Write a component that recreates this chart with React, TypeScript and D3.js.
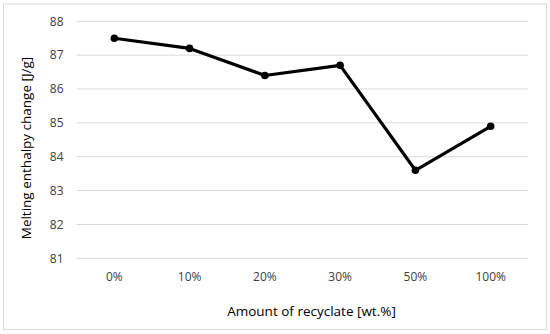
import React, { useEffect, useRef } from "react";
import * as d3 from "d3";

const categories = ["0%", "10%", "20%", "30%", "50%", "100%"];
const enthalpy = [87.5, 87.2, 86.4, 86.7, 83.6, 84.9];
const yTicks = [81, 82, 83, 84, 85, 86, 87, 88];

export default function App() {
  const svgRef = useRef<SVGSVGElement>(null);
  const width = 550;
  const height = 334;

  useEffect(() => {
    if (!svgRef.current) return;
    const svg = d3.select(svgRef.current);
    svg.selectAll("*").remove();

    const font = "'Open Sans', sans-serif";
    const plot = { left: 76.7, right: 528.3, top: 21.3, bottom: 258.3 };

    // chart border
    svg.append("rect")
      .attr("x", 3.5)
      .attr("y", 4)
      .attr("width", 543)
      .attr("height", 325.5)
      .attr("fill", "#fff")
      .attr("stroke", "#d9d9d9")
      .attr("stroke-width", 1);

    const x = d3.scaleBand<string>()
      .domain(categories)
      .range([plot.left, plot.right]);

    const y = d3.scaleLinear()
      .domain([81, 88])
      .range([plot.bottom, plot.top]);

    // gridlines
    svg.append("g")
      .selectAll("line")
      .data(yTicks)
      .join("line")
      .attr("x1", plot.left)
      .attr("x2", plot.right)
      .attr("y1", (d) => y(d))
      .attr("y2", (d) => y(d))
      .attr("stroke", "#d9d9d9")
      .attr("stroke-width", 1);

    // y tick labels
    svg.append("g")
      .selectAll("text")
      .data(yTicks)
      .join("text")
      .attr("x", 63.5)
      .attr("y", (d) => y(d))
      .attr("dy", "0.35em")
      .attr("text-anchor", "end")
      .attr("font-family", font)
      .attr("font-size", 12)
      .attr("fill", "#404040")
      .text((d) => d);

    // x tick labels
    svg.append("g")
      .selectAll("text")
      .data(categories)
      .join("text")
      .attr("x", (d) => (x(d) ?? 0) + x.bandwidth() / 2)
      .attr("y", 277)
      .attr("dy", "0.35em")
      .attr("text-anchor", "middle")
      .attr("font-family", font)
      .attr("font-size", 12)
      .attr("fill", "#404040")
      .text((d) => d);

    // axis titles
    svg.append("text")
      .attr("x", 311.5)
      .attr("y", 311)
      .attr("dy", "0.35em")
      .attr("text-anchor", "middle")
      .attr("font-family", font)
      .attr("font-size", 13.5)
      .attr("fill", "#000")
      .text("Amount of recyclate [wt.%]");

    svg.append("text")
      .attr("transform", "translate(26.7,148) rotate(-90)")
      .attr("dy", "0.35em")
      .attr("text-anchor", "middle")
      .attr("font-family", font)
      .attr("font-size", 13.5)
      .attr("fill", "#000")
      .text("Melting enthalpy change [J/g]");

    const line = d3.line<number>()
      .x((_, i) => (x(categories[i]) ?? 0) + x.bandwidth() / 2)
      .y((d) => y(d));

    svg.append("path")
      .datum(enthalpy)
      .attr("fill", "none")
      .attr("stroke", "#000")
      .attr("stroke-width", 3.2)
      .attr("stroke-linejoin", "round")
      .attr("d", line);

    svg.append("g")
      .selectAll("circle")
      .data(enthalpy)
      .join("circle")
      .attr("cx", (_, i) => (x(categories[i]) ?? 0) + x.bandwidth() / 2)
      .attr("cy", (d) => y(d))
      .attr("r", 3.8)
      .attr("fill", "#000");
  }, []);

  return (
    <svg
      ref={svgRef}
      width={width}
      height={height}
      style={{ position: "absolute", left: 0, top: 0, display: "block" }}
    />
  );
}
